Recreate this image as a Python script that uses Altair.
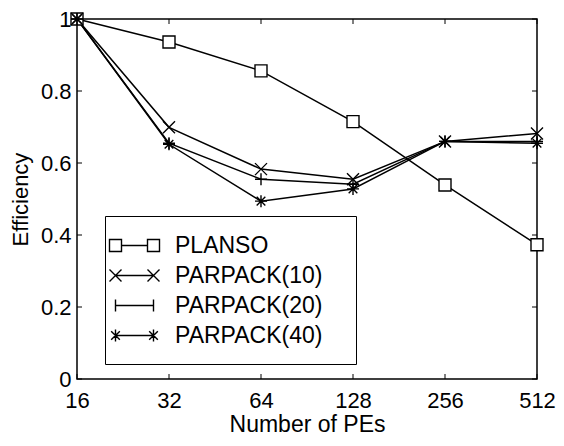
import altair as alt
import pandas as pd

xs = [16, 32, 64, 128, 256, 512]
planso = [1.0, 0.936, 0.856, 0.715, 0.539, 0.373]
pp10 = [1.0, 0.699, 0.583, 0.555, 0.660, 0.682]
pp20 = [1.0, 0.655, 0.555, 0.541, 0.660, 0.660]
pp40 = [1.0, 0.652, 0.494, 0.528, 0.660, 0.655]
series = ["PLANSO", "PARPACK(10)", "PARPACK(20)", "PARPACK(40)"]
x_ticks = [16, 32, 64, 128, 256, 512]
y_ticks = [0, 0.2, 0.4, 0.6, 0.8, 1]

rows = []
for name, vals in zip(series, [planso, pp10, pp20, pp40]):
    for i, (x, y) in enumerate(zip(xs, vals)):
        rows.append({"n": x, "eff": y, "series": name, "order": i})
df = pd.DataFrame(rows)

FONT = "Liberation Sans"
W, H = 460, 360

marker_paths = [
    "M-1,-1H1V1H-1Z",
    "M-1,-1L1,1M-1,1L1,-1",
    "M-1,0H1M0,-1V1",
    "M-1,0H1M0,-1V1M-0.72,-0.72L0.72,0.72M-0.72,0.72L0.72,-0.72",
]

def legend_path(kind):
    a, h = 1.52, 0.48
    line = f"M{-a},0H{a}"
    out = []
    for c in (-a, a):
        if kind == 0:
            out.append(f"M{c-h},{-h}H{c+h}V{h}H{c-h}Z")
        elif kind == 1:
            out.append(f"M{c-h},{-h}L{c+h},{h}M{c-h},{h}L{c+h},{-h}")
        elif kind == 2:
            out.append(f"M{c},{-h}V{h}")
        else:
            d = h * 0.72
            out.append(f"M{c},{-h}V{h}M{c-d},{-d}L{c+d},{d}M{c-d},{d}L{c+d},{-d}")
    if kind == 0:
        line = f"M{-a+h},0H{a-h}"
    return line + "".join(out)

legend_paths = [legend_path(k) for k in range(4)]

xscale = alt.Scale(type="log", base=2, domain=[16, 512], nice=False)
yscale = alt.Scale(domain=[0, 1], nice=False)

xaxis = alt.Axis(values=x_ticks, format="d", title="Number of PEs", ticks=False, tickSize=0,
                 domain=False, grid=False, labelPadding=11, titlePadding=2, labelFlush=False,
                 titleFontSize=23)
yaxis = alt.Axis(values=y_ticks, format="~g", title="Efficiency", ticks=False, tickSize=0,
                 domain=False, grid=False, labelPadding=6, titlePadding=8, titleFontSize=22)

base = alt.Chart(df)

lines = base.mark_line(color="black", strokeWidth=1.5).encode(
    x=alt.X("n:Q", scale=xscale, axis=xaxis),
    y=alt.Y("eff:Q", scale=yscale, axis=yaxis),
    detail="series:N",
    order="order:Q",
)

points = base.mark_point(filled=False, fill="white", fillOpacity=1, stroke="black",
                         strokeWidth=1.4, size=144, opacity=1).encode(
    x=alt.X("n:Q", scale=xscale),
    y=alt.Y("eff:Q", scale=yscale),
    shape=alt.Shape("series:N", scale=alt.Scale(domain=series, range=marker_paths), legend=None),
)

legend_layer = base.transform_filter("datum.n < 0").mark_point(
    filled=False, stroke="black", strokeWidth=1.4).encode(
    x=alt.X("n:Q", scale=xscale),
    y=alt.Y("eff:Q", scale=yscale),
    shape=alt.Shape("series:N", scale=alt.Scale(domain=series, range=legend_paths),
                    legend=alt.Legend(title="\u00a0", titleOrient="right", titlePadding=18,
                                      titleFontSize=1, titleColor="white",
                                      orient="none", legendX=28, legendY=197,
                                      symbolSize=625, labelOffset=27, rowPadding=4,
                                      padding=16, strokeColor="black", fillColor="white",
                                      symbolStrokeColor="black", symbolFillColor="white",
                                      symbolStrokeWidth=1.4, symbolOpacity=1,
                                      labelFontSize=23, labelFont=FONT, labelColor="black",
                                      labelLimit=400)),
)

xt = pd.DataFrame({"n": x_ticks})
yt = pd.DataFrame({"eff": y_ticks})
tick_len = 5
bt = alt.Chart(xt).mark_rule(color="black", strokeWidth=1).encode(
    x=alt.X("n:Q", scale=xscale), y=alt.value(H), y2=alt.value(H - tick_len))
tt = alt.Chart(xt).mark_rule(color="black", strokeWidth=1).encode(
    x=alt.X("n:Q", scale=xscale), y=alt.value(0), y2=alt.value(tick_len))
lt = alt.Chart(yt).mark_rule(color="black", strokeWidth=1).encode(
    y=alt.Y("eff:Q", scale=yscale), x=alt.value(0), x2=alt.value(tick_len))
rt = alt.Chart(yt).mark_rule(color="black", strokeWidth=1).encode(
    y=alt.Y("eff:Q", scale=yscale), x=alt.value(W), x2=alt.value(W - tick_len))

chart = alt.layer(bt, tt, lt, rt, lines, points, legend_layer).resolve_scale(
    shape="independent"
).properties(
    width=W, height=H,
    autosize=alt.AutoSizeParams(type="none"),
    padding={"left": 69, "top": 11, "right": 19, "bottom": 59},
    background="white",
).configure_view(
    stroke="black", strokeWidth=1.5
).configure_axis(
    labelFont=FONT, labelFontSize=22, labelColor="black",
    titleFont=FONT, titleColor="black", titleFontWeight="normal",
)

chart.save("out.html", embed_options={"renderer": "svg", "actions": False})
